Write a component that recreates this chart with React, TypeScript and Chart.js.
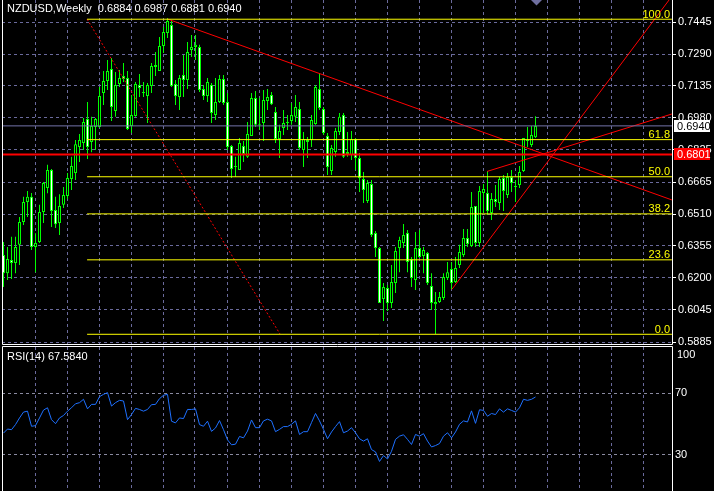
import React, { useEffect, useRef } from "react";
import { Chart, registerables } from "chart.js";

Chart.register(...registerables);

// ---------------- data (weekly NZDUSD) ----------------
const SYMBOL = "NZDUSD,Weekly";

const OPEN = [
  0.6311, 0.6222, 0.6286, 0.6271, 0.6360, 0.6471, 0.6569, 0.6594, 0.6350, 0.6374,
  0.6520, 0.6637, 0.6725, 0.6530, 0.6466, 0.6555, 0.6598, 0.6681, 0.6710, 0.6837,
  0.6856, 0.6974, 0.6861, 0.6935, 0.6935, 0.7100, 0.7159, 0.7217, 0.7012, 0.7144,
  0.7183, 0.7174, 0.6940, 0.6988, 0.7139, 0.7105, 0.7086, 0.7134, 0.7227, 0.7208,
  0.7329, 0.7393, 0.7432, 0.7144, 0.7081, 0.7188, 0.7164, 0.7310, 0.7325, 0.7325,
  0.7120, 0.7086, 0.7139, 0.6993, 0.7056, 0.7169, 0.7056, 0.6842, 0.6740, 0.6725,
  0.6842, 0.6789, 0.6891, 0.7076, 0.6945, 0.6954, 0.7061, 0.7090, 0.7008, 0.6876,
  0.6930, 0.6954, 0.6964, 0.6984, 0.7022, 0.6822, 0.6871, 0.6871, 0.6949, 0.7120,
  0.7022, 0.6891, 0.6720, 0.6813, 0.6910, 0.6993, 0.6803, 0.6798, 0.6876, 0.6784,
  0.6681, 0.6574, 0.6657, 0.6418, 0.6345, 0.6096, 0.6150, 0.6076, 0.6174, 0.6345,
  0.6369, 0.6418, 0.6291, 0.6189, 0.6345, 0.6306, 0.6320, 0.6160, 0.6071, 0.6081,
  0.6101, 0.6198, 0.6242, 0.6179, 0.6262, 0.6311, 0.6393, 0.6355, 0.6550, 0.6369,
  0.6613, 0.6613, 0.6515, 0.6584, 0.6564, 0.6686, 0.6603, 0.6691, 0.6647, 0.6652,
  0.6720, 0.6871, 0.6847, 0.6884,
];
const HIGH = [
  0.6374, 0.6350, 0.6399, 0.6399, 0.6496, 0.6594, 0.6622, 0.6613, 0.6417, 0.6555,
  0.6666, 0.6750, 0.6730, 0.6594, 0.6607, 0.6642, 0.6710, 0.6789, 0.6871, 0.6900,
  0.6979, 0.7056, 0.6984, 0.6979, 0.7130, 0.7208, 0.7261, 0.7271, 0.7203, 0.7212,
  0.7246, 0.7208, 0.7090, 0.7154, 0.7193, 0.7154, 0.7149, 0.7246, 0.7300, 0.7373,
  0.7422, 0.7466, 0.7456, 0.7164, 0.7188, 0.7286, 0.7349, 0.7383, 0.7383, 0.7335,
  0.7139, 0.7174, 0.7149, 0.7174, 0.7188, 0.7188, 0.7100, 0.6847, 0.6789, 0.6881,
  0.6866, 0.6959, 0.7100, 0.7110, 0.7076, 0.7115, 0.7120, 0.7105, 0.7032, 0.6945,
  0.7017, 0.6993, 0.7051, 0.7090, 0.7056, 0.6910, 0.6886, 0.6993, 0.7139, 0.7198,
  0.7032, 0.6905, 0.6847, 0.6930, 0.7003, 0.7003, 0.6910, 0.6915, 0.6881, 0.6808,
  0.6715, 0.6676, 0.6676, 0.6427, 0.6350, 0.6174, 0.6164, 0.6262, 0.6350, 0.6399,
  0.6462, 0.6432, 0.6301, 0.6423, 0.6432, 0.6350, 0.6325, 0.6222, 0.6130, 0.6130,
  0.6222, 0.6276, 0.6276, 0.6301, 0.6360, 0.6437, 0.6437, 0.6618, 0.6550, 0.6647,
  0.6657, 0.6720, 0.6613, 0.6652, 0.6691, 0.6701, 0.6710, 0.6725, 0.6676, 0.6745,
  0.6881, 0.6935, 0.6940, 0.6987,
];
const LOW = [
  0.6155, 0.6189, 0.6194, 0.6222, 0.6262, 0.6457, 0.6496, 0.6335, 0.6227, 0.6369,
  0.6466, 0.6612, 0.6447, 0.6442, 0.6408, 0.6540, 0.6584, 0.6627, 0.6676, 0.6764,
  0.6822, 0.6779, 0.6812, 0.6822, 0.6930, 0.7042, 0.7115, 0.6964, 0.6984, 0.7130,
  0.7154, 0.6920, 0.6905, 0.6984, 0.7081, 0.7081, 0.6954, 0.7100, 0.7183, 0.7208,
  0.7295, 0.7368, 0.7130, 0.7042, 0.7017, 0.7081, 0.7120, 0.7276, 0.7261, 0.7105,
  0.7066, 0.7056, 0.6954, 0.6969, 0.7051, 0.7042, 0.6822, 0.6686, 0.6691, 0.6725,
  0.6764, 0.6784, 0.6891, 0.6935, 0.6920, 0.6866, 0.7017, 0.7042, 0.6856, 0.6784,
  0.6896, 0.6920, 0.6945, 0.6959, 0.6822, 0.6740, 0.6784, 0.6837, 0.6945, 0.7017,
  0.6896, 0.6701, 0.6701, 0.6789, 0.6896, 0.6784, 0.6789, 0.6774, 0.6725, 0.6618,
  0.6564, 0.6564, 0.6398, 0.6301, 0.6076, 0.5989, 0.6037, 0.6052, 0.6125, 0.6227,
  0.6345, 0.6227, 0.6155, 0.6140, 0.6296, 0.6222, 0.6164, 0.6042, 0.5926, 0.6076,
  0.6091, 0.6189, 0.6145, 0.6174, 0.6247, 0.6301, 0.6350, 0.6350, 0.6350, 0.6350,
  0.6515, 0.6506, 0.6481, 0.6545, 0.6530, 0.6525, 0.6589, 0.6618, 0.6569, 0.6637,
  0.6715, 0.6837, 0.6837, 0.6881,
];
const CLOSE = [
  0.6222, 0.6291, 0.6271, 0.6350, 0.6471, 0.6569, 0.6594, 0.6350, 0.6369, 0.6520,
  0.6661, 0.6725, 0.6525, 0.6461, 0.6550, 0.6603, 0.6686, 0.6745, 0.6851, 0.6871,
  0.6959, 0.6837, 0.6940, 0.6974, 0.7086, 0.7159, 0.7208, 0.7032, 0.7139, 0.7174,
  0.7169, 0.6925, 0.6993, 0.7144, 0.7125, 0.7100, 0.7139, 0.7232, 0.7237, 0.7329,
  0.7398, 0.7451, 0.7134, 0.7086, 0.7174, 0.7164, 0.7300, 0.7325, 0.7335, 0.7115,
  0.7086, 0.7154, 0.7003, 0.7056, 0.7169, 0.7051, 0.6837, 0.6730, 0.6745, 0.6856,
  0.6803, 0.6900, 0.7076, 0.6945, 0.6949, 0.7066, 0.7081, 0.7046, 0.6876, 0.6915,
  0.6954, 0.6959, 0.6993, 0.7032, 0.6832, 0.6876, 0.6861, 0.6969, 0.7130, 0.7027,
  0.6905, 0.6740, 0.6832, 0.6915, 0.6984, 0.6789, 0.6813, 0.6876, 0.6784, 0.6686,
  0.6627, 0.6661, 0.6408, 0.6345, 0.6076, 0.6155, 0.6076, 0.6179, 0.6330, 0.6384,
  0.6408, 0.6276, 0.6198, 0.6345, 0.6301, 0.6335, 0.6174, 0.6076, 0.6081, 0.6106,
  0.6203, 0.6227, 0.6174, 0.6247, 0.6325, 0.6393, 0.6364, 0.6545, 0.6369, 0.6622,
  0.6632, 0.6525, 0.6584, 0.6569, 0.6681, 0.6622, 0.6691, 0.6661, 0.6642, 0.6715,
  0.6881, 0.6866, 0.6896, 0.6940,
];

const RSI_PERIOD = 14;
const RSI = [
  44.2, 46.8, 46.4, 49.7, 54.0, 57.8, 58.4, 48.6, 49.0, 54.0,
  59.1, 60.6, 52.9, 50.3, 54.0, 55.6, 58.4, 60.6, 63.2, 63.9,
  66.1, 59.9, 62.8, 62.8, 67.8, 69.3, 70.4, 61.7, 63.9, 65.4,
  65.0, 52.9, 56.2, 60.2, 59.5, 58.4, 59.5, 62.6, 62.8, 66.5,
  68.7, 69.3, 51.9, 50.8, 54.0, 53.6, 59.5, 59.5, 59.9, 49.7,
  48.6, 51.9, 45.3, 47.5, 52.3, 46.4, 39.8, 36.6, 37.0, 42.0,
  41.1, 45.5, 52.7, 47.7, 47.7, 52.1, 53.2, 52.1, 45.1, 46.6,
  48.4, 48.4, 49.9, 52.1, 43.3, 45.1, 45.1, 51.0, 56.9, 52.1,
  46.6, 40.5, 44.9, 48.4, 51.6, 44.4, 45.5, 47.7, 44.4, 40.5,
  39.0, 40.5, 33.5, 32.0, 25.8, 29.6, 27.4, 32.4, 40.1, 42.2,
  43.1, 40.1, 36.8, 43.3, 42.2, 43.8, 39.0, 35.2, 36.1, 37.4,
  42.2, 44.4, 41.1, 44.9, 49.9, 52.1, 51.4, 58.6, 50.5, 59.3,
  58.9, 55.1, 56.9, 56.2, 59.9, 57.8, 59.9, 58.9, 57.8, 60.6,
  66.1, 65.4, 66.1, 67.584,
];

// axis ticks
const PRICE_TICKS = [0.7445, 0.729, 0.7135, 0.698, 0.6825, 0.6665, 0.651, 0.6355, 0.62, 0.6045, 0.5885];
const PRICE_TICK_LABELS = ["0.7445", "0.7290", "0.7135", "0.6980", "0.6825", "0.6665", "0.6510", "0.6355", "0.6200", "0.6045", "0.5885"];
const RSI_TICKS = [100, 70, 30];
const RSI_TICK_LABELS = ["100", "70", "30"];
// vertical grid positions (in bar units)
const GRID_BARS = [7.875, 15.875, 23.875, 31.875, 39.875, 47.875, 55.875, 63.875, 71.875, 79.875,
  87.875, 95.875, 103.875, 111.875, 119.875, 127.875, 135.875, 143.875, 151.875, 159.875];

// Fibonacci retracement object
const FIB_LEVELS = ["0.0", "23.6", "38.2", "50.0", "61.8", "100.0"];
const FIB_PRICES = [0.5924, 0.6287, 0.6511, 0.6692, 0.6873, 0.746];
const FIB_FROM_BAR = 20.9;
const FIB_TO_BAR = 167.1;
const FIB_BASE_X = [20.9, 69.1];
const FIB_BASE_Y = [0.746, 0.5926];

// trend lines (bar index, price)
const TREND1_X = [41, 167.1];
const TREND1_Y = [0.7461, 0.6579];
const TREND2_X = [112.1, 166.4];
const TREND2_Y = [0.6143, 0.7554];
const TREND3_X = [120.9, 167.1];
const TREND3_Y = [0.6718, 0.6998];

const ALERT_LEVEL = 0.6801;

// view window
const X_MIN = -0.375;
const X_MAX = 167.125;
const Y_MIN = 0.587181;
const Y_MAX = 0.755371;
const RSI_MIN = 6.64;
const RSI_MAX = 100;

// ---------------- styles ----------------
const FONT = "'Liberation Sans Narrow', 'Liberation Sans', Arial, sans-serif";
const FONT_SIZE = 11;
const GRID_COLOR = "#6a6a9c";
const LEVEL_COLOR = "#8a8aa0";
const CANDLE = "#00ff00";
const BID_COLOR = "#7474aa";

const seg = (xs: number[], ys: number[]) => xs.map((x, i) => ({ x, y: ys[i] }));

const lineDs = (data: any[], color: string, width = 1, dash: number[] = []) => ({
  type: "line" as const,
  data,
  borderColor: color,
  borderWidth: width,
  borderDash: dash,
  pointRadius: 0,
  tension: 0,
  fill: false,
  order: 0,
});

const xScaleOpts = () => ({
  type: "linear" as const,
  min: X_MIN,
  max: X_MAX,
  offset: false,
  afterBuildTicks: (s: any) => {
    s.ticks = GRID_BARS.map((v) => ({ value: v }));
  },
  afterFit: (s: any) => {
    s.height = 0;
    s.paddingLeft = 0;
    s.paddingRight = 0;
    s.paddingTop = 0;
    s.paddingBottom = 0;
  },
  ticks: { display: false },
  grid: { color: GRID_COLOR, lineWidth: 1, drawTicks: false, offset: false, borderDash: [3, 3] },
  border: { display: false, dash: [3, 3] },
});

export default function App() {
  const mainRef = useRef<HTMLCanvasElement>(null);
  const rsiRef = useRef<HTMLCanvasElement>(null);

  useEffect(() => {
    document.body.style.margin = "0";
    document.body.style.background = "#000";
    const n = OPEN.length;
    const last = n - 1;

    const mainDecor = {
      id: "mainDecor",
      afterDraw(chart: any) {
        const { ctx, chartArea: a, scales } = chart;
        const ys = scales.y;
        const xs = scales.x;
        ctx.save();
        // frame
        ctx.strokeStyle = "#ffffff";
        ctx.lineWidth = 1;
        ctx.beginPath();
        ctx.moveTo(a.left + 0.5, a.top);
        ctx.lineTo(a.left + 0.5, a.bottom - 0.5);
        ctx.lineTo(a.right + 0.5, a.bottom - 0.5);
        ctx.lineTo(a.right + 0.5, a.top);
        ctx.stroke();
        // title
        ctx.font = `${FONT_SIZE}px ${FONT}`;
        ctx.fillStyle = "#ffffff";
        ctx.textAlign = "left";
        ctx.textBaseline = "alphabetic";
        const title = `${SYMBOL}  ${OPEN[last].toFixed(4)} ${HIGH[last].toFixed(4)} ${LOW[last].toFixed(4)} ${CLOSE[last].toFixed(4)}`;
        ctx.fillText(title, 7, 11.5);
        // fibonacci level labels
        ctx.fillStyle = "#ffff00";
        ctx.textAlign = "right";
        FIB_LEVELS.forEach((lab, k) => {
          const y = ys.getPixelForValue(FIB_PRICES[k]);
          ctx.fillText(lab, a.right - 2, y - 1.5);
        });
        // price boxes
        ctx.textAlign = "left";
        ctx.textBaseline = "middle";
        const box = (price: number, bg: string, fg: string) => {
          const y = Math.round(ys.getPixelForValue(price));
          ctx.fillStyle = bg;
          ctx.fillRect(a.right + 2, y - 6, 36, 12);
          ctx.fillStyle = fg;
          ctx.fillText(price.toFixed(4), a.right + 5, y + 0.5);
        };
        box(CLOSE[last], "#ffffff", "#000000");
        box(ALERT_LEVEL, "#ff0000", "#ffffff");
        // chart shift marker
        const sx = xs.getPixelForValue(last) + 1;
        ctx.fillStyle = "#6f6f9f";
        ctx.beginPath();
        ctx.moveTo(sx - 5.5, 0);
        ctx.lineTo(sx + 5.5, 0);
        ctx.lineTo(sx, 5.5);
        ctx.closePath();
        ctx.fill();
        ctx.restore();
      },
    };

    const main = new Chart(mainRef.current as HTMLCanvasElement, {
      type: "bar",
      data: {
        datasets: [
          // objects
          lineDs(seg([X_MIN, X_MAX], [CLOSE[last], CLOSE[last]]), BID_COLOR, 1),
          lineDs(seg([X_MIN, X_MAX], [ALERT_LEVEL, ALERT_LEVEL]), "#ff0000", 2),
          ...FIB_PRICES.map((p) => lineDs(seg([FIB_FROM_BAR, FIB_TO_BAR], [p, p]), "#ffff00", 1)),
          lineDs(seg(FIB_BASE_X, FIB_BASE_Y), "#ff0000", 1, [2, 2]),
          lineDs(seg(TREND1_X, TREND1_Y), "#ff0000", 1),
          lineDs(seg(TREND2_X, TREND2_Y), "#ff0000", 1),
          lineDs(seg(TREND3_X, TREND3_Y), "#ff0000", 1),
          // candle bodies
          {
            type: "bar" as const,
            data: OPEN.map((o, i) => ({ x: i, y: [o, CLOSE[i]] })) as any,
            backgroundColor: OPEN.map((o, i) => (CLOSE[i] < o ? "#ffffff" : "#000000")),
            borderColor: CANDLE,
            borderWidth: 1,
            borderSkipped: false,
            barThickness: 3,
            minBarLength: 1,
            grouped: false,
            inflateAmount: 0,
            order: 1,
          },
          // wicks
          {
            type: "bar" as const,
            data: HIGH.map((h, i) => ({ x: i, y: [LOW[i], h] })) as any,
            backgroundColor: CANDLE,
            borderWidth: 0,
            barThickness: 1,
            grouped: false,
            inflateAmount: 0,
            order: 2,
          },
        ] as any,
      },
      options: {
        responsive: false,
        animation: false,
        devicePixelRatio: 1,
        events: [],
        layout: { padding: { left: 2, right: 0, top: 0, bottom: 1 } },
        plugins: { legend: { display: false }, tooltip: { enabled: false } },
        scales: {
          x: xScaleOpts() as any,
          y: {
            type: "linear",
            position: "right",
            min: Y_MIN,
            max: Y_MAX,
            afterBuildTicks: (s: any) => {
              s.ticks = PRICE_TICKS.map((v) => ({ value: v }));
            },
            afterFit: (s: any) => {
              s.width = 42;
              s.paddingTop = 0;
              s.paddingBottom = 0;
            },
            ticks: {
              color: "#ffffff",
              font: { family: FONT, size: FONT_SIZE },
              padding: 2,
              autoSkip: false,
              callback: (_v: any, i: number) => PRICE_TICK_LABELS[i],
            },
            grid: {
              color: GRID_COLOR,
              lineWidth: 1,
              drawTicks: true,
              tickLength: 4,
              tickColor: "#ffffff",
              tickBorderDash: [],
              borderDash: [3, 3],
            },
            border: { display: false, dash: [3, 3] },
          } as any,
        },
      },
      plugins: [mainDecor],
    });

    const rsiDecor = {
      id: "rsiDecor",
      afterDraw(chart: any) {
        const { ctx, chartArea: a } = chart;
        ctx.save();
        ctx.strokeStyle = "#ffffff";
        ctx.lineWidth = 1;
        ctx.beginPath();
        ctx.moveTo(a.left + 0.5, a.bottom);
        ctx.lineTo(a.left + 0.5, a.top - 0.5);
        ctx.lineTo(a.right + 0.5, a.top - 0.5);
        ctx.lineTo(a.right + 0.5, a.bottom);
        ctx.stroke();
        ctx.font = `${FONT_SIZE}px ${FONT}`;
        ctx.fillStyle = "#ffffff";
        ctx.textAlign = "left";
        ctx.textBaseline = "alphabetic";
        ctx.fillText(`RSI(${RSI_PERIOD}) ${RSI[RSI.length - 1].toFixed(4)}`, 7, 14);
        // top level label (sits just under the frame)
        ctx.fillText(RSI_TICK_LABELS[0], a.right + 5, 11.5);
        ctx.restore();
      },
    };

    const rsi = new Chart(rsiRef.current as HTMLCanvasElement, {
      type: "line",
      data: {
        datasets: [
          {
            data: RSI.map((v, i) => ({ x: i, y: v })),
            borderColor: "#1e70ff",
            borderWidth: 1,
            pointRadius: 0,
            tension: 0,
            fill: false,
          },
        ],
      },
      options: {
        responsive: false,
        animation: false,
        devicePixelRatio: 1,
        events: [],
        layout: { padding: { left: 2, right: 0, top: 1, bottom: 0 } },
        plugins: { legend: { display: false }, tooltip: { enabled: false } },
        scales: {
          x: xScaleOpts() as any,
          y: {
            type: "linear",
            position: "right",
            min: RSI_MIN,
            max: RSI_MAX,
            afterBuildTicks: (s: any) => {
              s.ticks = RSI_TICKS.slice(1).map((v) => ({ value: v }));
            },
            afterFit: (s: any) => {
              s.width = 42;
              s.paddingTop = 0;
              s.paddingBottom = 0;
            },
            ticks: {
              color: "#ffffff",
              font: { family: FONT, size: FONT_SIZE },
              padding: 3,
              autoSkip: false,
              callback: (_v: any, i: number) => RSI_TICK_LABELS[i + 1],
            },
            grid: { color: LEVEL_COLOR, lineWidth: 1, drawTicks: false, borderDash: [3, 3] },
            border: { display: false, dash: [3, 3] },
          } as any,
        },
      },
      plugins: [rsiDecor],
    });

    return () => {
      main.destroy();
      rsi.destroy();
    };
  }, []);

  return (
    <div style={{ width: 714, height: 491, background: "#000", position: "relative", overflow: "hidden" }}>
      <canvas ref={mainRef} width={714} height={346} style={{ display: "block", width: 714, height: 346 }} />
      <canvas ref={rsiRef} width={714} height={145} style={{ display: "block", width: 714, height: 145 }} />
    </div>
  );
}
